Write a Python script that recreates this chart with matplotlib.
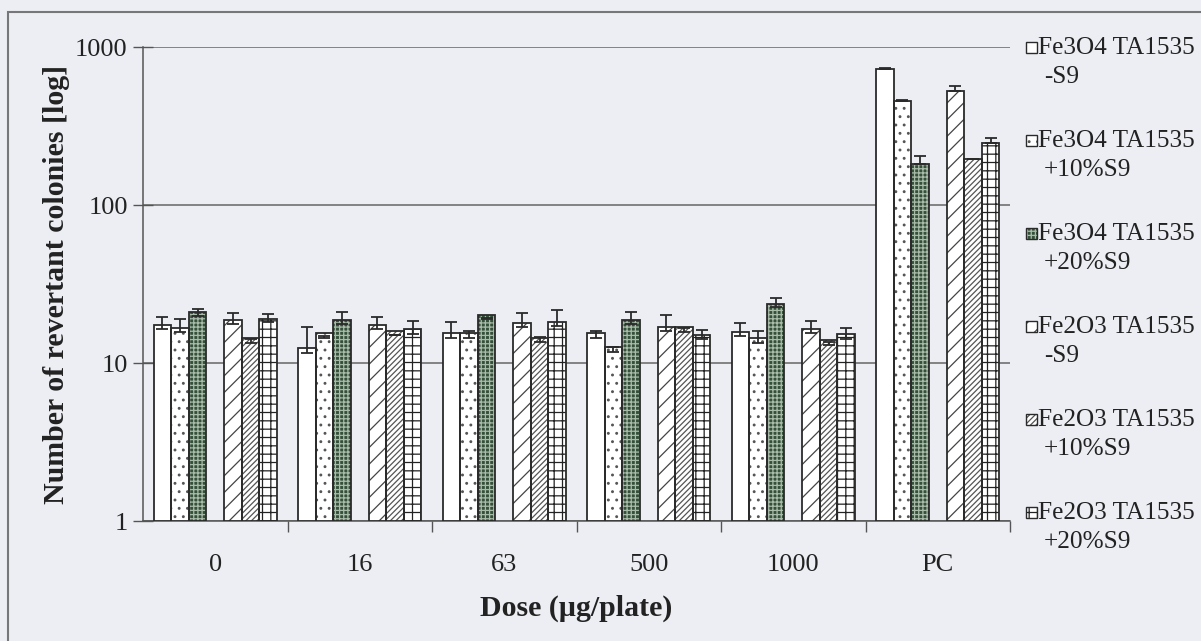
import numpy as np
import matplotlib; matplotlib.use("Agg"); import matplotlib.pyplot as plt
from matplotlib.patches import Rectangle

doses = ["0", "16", "63", "500", "1000", "PC"]
series = ["Fe3O4 TA1535\n-S9", "Fe3O4 TA1535\n+10%S9", "Fe3O4 TA1535\n+20%S9",
          "Fe2O3 TA1535\n-S9", "Fe2O3 TA1535\n+10%S9", "Fe2O3 TA1535\n+20%S9"]
fe3o4_m   = [16.3, 11.5, 14.5, 14.5, 14.8, 722]
fe3o4_10  = [15.6, 14.5, 14.5, 11.7, 13.3, 455]
fe3o4_20  = [19.9, 17.7, 19.0, 17.6, 22.7, 181]
fe2o3_m   = [17.7, 16.3, 16.8, 16.0, 15.4, 527]
fe2o3_10  = [13.3, 15.0, 13.5, 15.8, 13.0, 195]
fe2o3_20  = [18.1, 15.3, 17.2, 14.1, 14.2, 246]
err_fe3o4_m  = [3.3, 5.3, 3.6, 1.5, 3.0, 12]
err_fe3o4_10 = [3.4, 0.3, 1.5, 0.9, 2.7, 7]
err_fe3o4_20 = [2.1, 3.4, 0.2, 3.5, 3.0, 23]
err_fe2o3_m  = [3.1, 3.2, 4.0, 4.1, 3.1, 42]
err_fe2o3_10 = [0.9, 0.1, 1.2, 0.8, 0.5, 0]
err_fe2o3_20 = [2.2, 3.2, 4.4, 2.1, 2.4, 18]

vals = [fe3o4_m, fe3o4_10, fe3o4_20, fe2o3_m, fe2o3_10, fe2o3_20]
errs = [err_fe3o4_m, err_fe3o4_10, err_fe3o4_20, err_fe2o3_m, err_fe2o3_10, err_fe2o3_20]
# style per series: face, hatch, hatch colour
styles = [("white", "", "#333333"), ("white", "..", "#555555"), ("#34503a", "++++", "#a9bca9"),
          ("white", "//", "#444444"), ("white", "//////", "#555555"), ("white", "++", "#222222")]
offsets = [-3, -2, -1, 1, 2, 3]

W, H = 1201, 641
BG = "#eceef3"
plt.rcParams.update({"font.family": ["Liberation Serif", "DejaVu Serif"], "hatch.linewidth": 0.9})
fig = plt.figure(figsize=(W/100, H/100), dpi=100, facecolor=BG)
ax = fig.add_axes([143/W, 1-521/H, (1010-143)/W, (521-47)/H], facecolor=BG)
px = lambda x, y: (x/W, 1-y/H)

x = np.arange(len(doses)) + 0.5
bw = 0.122
for v, e, (fc, hat, hc), o in zip(vals, errs, styles, offsets):
    xs = x + o*bw
    ax.bar(xs, v, bw, bottom=1, color=fc, hatch=hat, edgecolor=hc, lw=0, zorder=3)
    ax.bar(xs, v, bw, bottom=1, fill=False, edgecolor="#2a2a2a", lw=1.3, zorder=4)
    ax.errorbar(xs, v, yerr=[np.zeros(len(e)), e], fmt="none", ecolor="#2a2a2a",
                elinewidth=1.3, capsize=4.5, capthick=1.3, zorder=5)

ax.set_yscale("log"); ax.set_ylim(1, 1000); ax.set_xlim(0, 6)
ax.set_yticks([1, 10, 100, 1000]); ax.set_yticklabels(["1", "10", "100", "1000"])
ax.yaxis.set_minor_locator(plt.NullLocator())
ax.tick_params(axis="y", direction="inout", length=14, width=1, colors="#555555",
               labelcolor="#222222", labelsize=19, pad=4)
ax.set_xticks(np.arange(1, 7))
ax.set_xticklabels([])
ax.set_xticks(x, minor=True); ax.set_xticklabels(doses, minor=True)
ax.tick_params(axis="x", which="major", direction="out", length=8, width=1, colors="#555555")
ax.tick_params(axis="x", which="minor", length=0, labelsize=19, labelcolor="#222222", pad=24)
ax.grid(axis="y", color="#666666", lw=1.1, zorder=1)
for s in ["top", "right"]: ax.spines[s].set_visible(False)
for s in ["left", "bottom"]: ax.spines[s].set_color("#555555"); ax.spines[s].set_linewidth(1.1)

ax.set_ylabel("Number of revertant colonies [log]", fontsize=21.5, fontweight="bold",
              color="#222222", labelpad=4)
ax.set_xlabel("Dose (µg/plate)", fontsize=21.5, fontweight="bold", color="#222222", labelpad=13)

# legend, drawn beside the plot
for i, (lab, (fc, hat, hc)) in enumerate(zip(series, styles)):
    yc = 48 + i*93
    l1, l2 = lab.split("\n")
    fig.add_artist(Rectangle(px(1026, yc+5), 11/W, 11/H, facecolor=fc, hatch=hat,
                             edgecolor=hc, lw=0))
    fig.add_artist(Rectangle(px(1026, yc+5), 11/W, 11/H, fill=False, edgecolor="#2a2a2a", lw=1))
    fig.text(*px(1038, yc), l1, fontsize=18.2, va="center", color="#222222")
    fig.text(*px(1044, yc+29), l2, fontsize=18.2, va="center", color="#222222")

# scanned frame around the chart
fig.add_artist(Rectangle(px(8, 700), 1.5, (700-12)/H, fill=False, edgecolor="#777777", lw=1.5))
fig.savefig("out.png", facecolor=BG)
